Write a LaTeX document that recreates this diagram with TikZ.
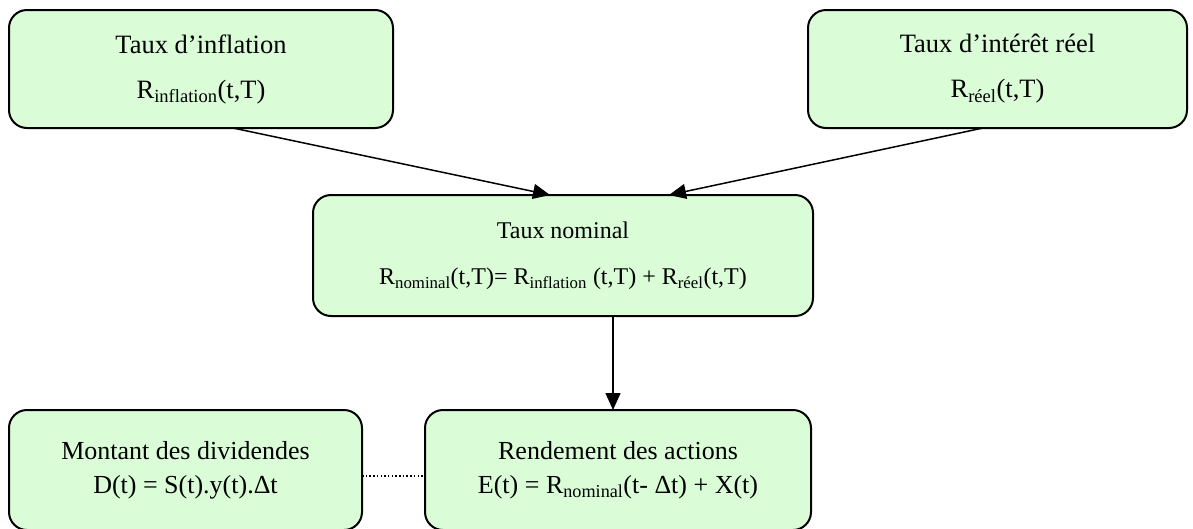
\documentclass[tikz,border=0pt]{standalone}
\usepackage{fontspec}
\setmainfont{Liberation Serif}
\usetikzlibrary{arrows.meta}
\definecolor{boxgreen}{RGB}{218,253,216}

\begin{document}
\begin{tikzpicture}[x=1pt,y=-1pt,every node/.style={outer sep=0pt,inner sep=0pt},
  bloc/.style={draw=black,line width=2pt,fill=boxgreen,rounded corners=18pt,align=center,font=\fontsize{26.5}{45}\selectfont},
  blocnominal/.style={bloc,font=\fontsize{24}{46}\selectfont},
  petitbloc/.style={bloc,font=\fontsize{26}{34}\selectfont},
  lien/.style={line width=1.5pt,-{Triangle[length=17pt,width=15pt]}}]
\useasboundingbox (0,0) rectangle (1193,528);
\clip (0,0) rectangle (1193,528);
\node[bloc,minimum width=384pt,minimum height=118pt] (infl) at (201,69) {Taux d’inflation\\R\textsubscript{inflation}(t,T)};
\node[bloc,minimum width=379pt,minimum height=118pt] (reel) at (997.5,69) {Taux d’intérêt réel\\R\textsubscript{réel}(t,T)};
\node[blocnominal,minimum width=500pt,minimum height=121pt] (nom) at (563,255.5) {Taux nominal\\R\textsubscript{nominal}(t,T)= R\textsubscript{inflation} (t,T) + R\textsubscript{réel}(t,T)};
\node[petitbloc,minimum width=353pt,minimum height=120pt] (divid) at (185.5,470) {Montant des dividendes\\D(t) = S(t).y(t).Δt};
\node[petitbloc,minimum width=386pt,minimum height=120pt] (rend) at (618,470) {Rendement des actions\\E(t) = R\textsubscript{nominal}(t- Δt) + X(t)};
\draw[lien] ([xshift=32pt]infl.south) -- ([xshift=-13pt]nom.north);
\draw[lien] ([xshift=-14.5pt]reel.south) -- ([xshift=106pt]nom.north);
\draw[lien] ([xshift=50pt]nom.south) -- ([xshift=-5pt]rend.north);
\draw[line width=2pt,dash pattern=on 1.5pt off 2.2pt] ([yshift=-6pt]divid.east) -- ([yshift=-6pt]rend.west);
\end{tikzpicture}
\end{document}
